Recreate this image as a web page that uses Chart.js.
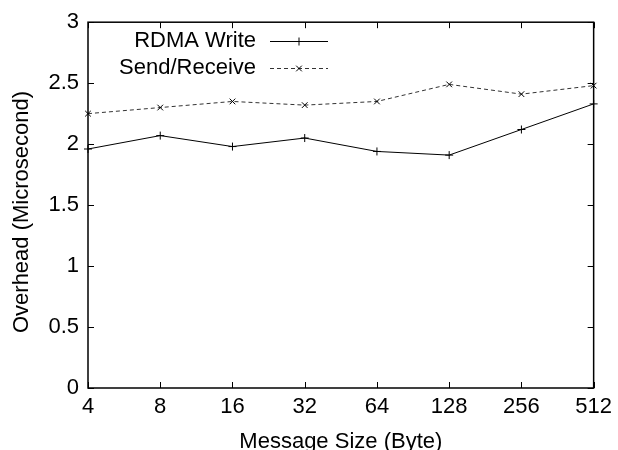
<!DOCTYPE html>
<html>
<head>
<meta charset="utf-8">
<script src="https://cdn.jsdelivr.net/npm/chart.js@4/dist/chart.umd.min.js"></script>
<style>
  html, body { margin: 0; padding: 0; background: #fff; }
  #wrap { width: 618px; height: 450px; }
</style>
</head>
<body>
<div id="wrap"><canvas id="c" width="618" height="450"></canvas></div>
<script>
// Message sizes (bytes) on the x axis
const messageSizes = ['4', '8', '16', '32', '64', '128', '256', '512'];
// Overhead in microseconds
const rdmaWrite   = [1.96, 2.07, 1.98, 2.05, 1.94, 1.91, 2.12, 2.33];
const sendReceive = [2.25, 2.30, 2.35, 2.32, 2.35, 2.49, 2.41, 2.48];
// Y axis tick values
const yTicks = [0, 0.5, 1, 1.5, 2, 2.5, 3];

const FONT = "'Liberation Sans', Arial, Helvetica, sans-serif";
const FONT_SIZE = 22;

// Frame with inward tick marks on all four sides, plus axis titles
const framePlugin = {
  id: 'frame',
  afterDraw(chart) {
    const { ctx, chartArea: a, scales: { x, y } } = chart;
    const tl = 6;
    ctx.save();
    ctx.strokeStyle = '#000';
    ctx.lineWidth = 1;
    ctx.beginPath();
    y.ticks.forEach(t => {
      const py = Math.round(y.getPixelForValue(t.value)) + 0.5;
      ctx.moveTo(a.left, py); ctx.lineTo(a.left + tl, py);
      ctx.moveTo(a.right, py); ctx.lineTo(a.right - tl, py);
    });
    messageSizes.forEach((_, i) => {
      const px = Math.round(x.getPixelForValue(i)) + 0.5;
      ctx.moveTo(px, a.bottom); ctx.lineTo(px, a.bottom - tl);
      ctx.moveTo(px, a.top); ctx.lineTo(px, a.top + tl);
    });
    ctx.stroke();
    ctx.lineWidth = 1.5;
    ctx.strokeRect(a.left, a.top, a.right - a.left, a.bottom - a.top);

    // axis titles
    ctx.fillStyle = '#000';
    ctx.font = FONT_SIZE + 'px ' + FONT;
    ctx.textAlign = 'center';
    ctx.textBaseline = 'middle';
    ctx.fillText('Message Size (Byte)', (a.left + a.right) / 2, 442);
    ctx.translate(22, 212);
    ctx.rotate(-Math.PI / 2);
    ctx.fillText('Overhead (Microsecond)', 0, 0);
    ctx.restore();
  }
};

// Key in the upper left: label right-aligned, then a line sample with its marker
const keyPlugin = {
  id: 'key',
  afterDatasetsDraw(chart) {
    const { ctx } = chart;
    const textRight = 256, x0 = 270, x1 = 328;
    const rows = [41, 68];
    ctx.save();
    chart.data.datasets.forEach((ds, i) => {
      const yy = rows[i];
      ctx.fillStyle = '#000';
      ctx.font = FONT_SIZE + 'px ' + FONT;
      ctx.textAlign = 'right';
      ctx.textBaseline = 'middle';
      ctx.fillText(ds.label, textRight, yy);
      ctx.strokeStyle = ds.borderColor;
      ctx.lineWidth = ds.borderWidth;
      ctx.setLineDash(ds.borderDash || []);
      ctx.beginPath();
      ctx.moveTo(x0, yy + 0.5); ctx.lineTo(x1, yy + 0.5);
      ctx.stroke();
      ctx.setLineDash([]);
      ctx.strokeStyle = ds.pointBorderColor;
      Chart.helpers.drawPoint(ctx, {
        pointStyle: ds.pointStyle, radius: ds.pointRadius,
        borderWidth: ds.pointBorderWidth, rotation: 0
      }, (x0 + x1) / 2, yy + 0.5);
    });
    ctx.restore();
  }
};

new Chart(document.getElementById('c'), {
  type: 'line',
  data: {
    labels: messageSizes,
    datasets: [
      {
        label: 'RDMA Write',
        data: rdmaWrite,
        borderColor: '#000',
        borderWidth: 1,
        pointStyle: 'cross',
        pointRadius: 4,
        pointBorderWidth: 1,
        pointBorderColor: '#000',
        pointBackgroundColor: '#000',
        tension: 0,
        fill: false,
        clip: false
      },
      {
        label: 'Send/Receive',
        data: sendReceive,
        borderColor: '#333',
        borderWidth: 1,
        borderDash: [4, 3],
        pointStyle: 'crossRot',
        pointRadius: 4,
        pointBorderWidth: 1,
        pointBorderColor: '#000',
        pointBackgroundColor: '#000',
        tension: 0,
        fill: false,
        clip: false
      }
    ]
  },
  options: {
    responsive: false,
    devicePixelRatio: 1,
    animation: false,
    layout: { padding: { top: 17, right: 21, left: 0, bottom: 0 } },
    plugins: {
      legend: { display: false },
      tooltip: { enabled: false }
    },
    scales: {
      x: {
        type: 'category',
        offset: false,
        grid: { display: false, drawTicks: false },
        border: { display: false },
        ticks: {
          color: '#000',
          font: { family: FONT, size: FONT_SIZE },
          padding: 6,
          maxRotation: 0,
          autoSkip: false
        },
        afterFit(scale) { scale.height = 62; }
      },
      y: {
        min: 0,
        max: 3,
        grid: { display: false, drawTicks: false },
        border: { display: false },
        afterBuildTicks(scale) { scale.ticks = yTicks.map(v => ({ value: v })); },
        ticks: {
          color: '#000',
          font: { family: FONT, size: FONT_SIZE },
          padding: 9,
          callback: v => String(v)
        },
        afterFit(scale) { scale.width = 88; }
      }
    }
  },
  plugins: [framePlugin, keyPlugin]
});
</script>
</body>
</html>
